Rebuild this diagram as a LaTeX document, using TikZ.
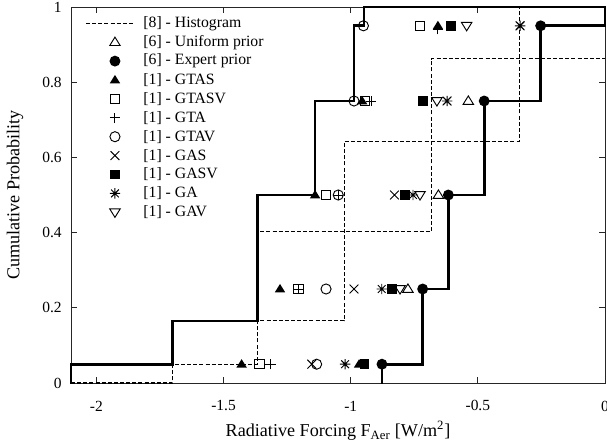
\documentclass[tikz,border=0pt]{standalone}
\usepackage{fontspec}
\setmainfont{Liberation Serif}
\begin{document}
\begin{tikzpicture}[x=190.725pt,y=282pt]
\tikzset{
 stepline/.style={line width=2pt, line join=miter, line cap=rect},
 hist/.style={line width=0.8pt, dash pattern=on 3pt off 1.6pt},
 mk/.style={line width=0.7pt},
 frame/.style={line width=0.7pt, black!85},
 ticklab/.style={font=\fontsize{11.6}{13}\selectfont, inner sep=0pt},
 leglab/.style={font=\fontsize{11.8}{13}\selectfont, inner sep=0pt, anchor=west},
 axlab/.style={font=\fontsize{13.6}{15}\selectfont, inner sep=0pt},
 pics/tu/.style={code={\draw[mk] (0pt,3.8pt)--(-3.9pt,-2.5pt)--(3.9pt,-2.5pt)--cycle;}},
 pics/td/.style={code={\draw[mk] (0pt,-3.8pt)--(-3.9pt,2.5pt)--(3.9pt,2.5pt)--cycle;}},
 pics/tf/.style={code={\fill (0pt,3.8pt)--(-3.9pt,-2.5pt)--(3.9pt,-2.5pt)--cycle;}},
 pics/cf/.style={code={\fill (0pt,0pt) circle[radius=4.1pt];}},
 pics/co/.style={code={\draw[mk] (0pt,0pt) circle[radius=3.8pt];}},
 pics/sq/.style={code={\draw[mk] (-3.5pt,-3.5pt) rectangle (3.5pt,3.5pt);}},
 pics/sf/.style={code={\fill (-3.7pt,-3.7pt) rectangle (3.7pt,3.7pt);}},
 pics/pl/.style={code={\draw[mk] (-3.9pt,0pt)--(3.9pt,0pt) (0pt,-3.9pt)--(0pt,3.9pt);}},
 pics/cr/.style={code={\draw[mk] (-3.3pt,-3.3pt)--(3.3pt,3.3pt) (-3.3pt,3.3pt)--(3.3pt,-3.3pt);}},
 pics/as/.style={code={\draw[mk] (-3.9pt,0pt)--(3.9pt,0pt) (0pt,-3.9pt)--(0pt,3.9pt) (-2.9pt,-2.9pt)--(2.9pt,2.9pt) (-2.9pt,2.9pt)--(2.9pt,-2.9pt);}},
}
\useasboundingbox (-2.3791,-0.15426) rectangle (0.00786,1.01862);
\fill[white] (-2.3791,-0.15426) rectangle (0.00786,1.01862);

% frame and ticks
\draw[frame] (-2.1,0) rectangle (0,1);
\foreach \t in {-2,-1.5,-1,-0.5} {
  \draw[frame] (\t,0) -- ++(0pt,4.5pt);
  \draw[frame] (\t,1) -- ++(0pt,-4.5pt);
}
\foreach \t in {0.2,0.4,0.6,0.8} {
  \draw[frame] (-2.1,\t) -- ++(4.5pt,0pt);
  \draw[frame] (0,\t) -- ++(-4.5pt,0pt);
}
\foreach \t in {-2,-1.5,-1,-0.5,0} \node[ticklab] at (\t,-0.061) {\t};
\foreach \t/\l in {0/0,0.2/0.2,0.4/0.4,0.6/0.6,0.8/0.8,1/1} \node[ticklab,anchor=east] at (-2.1354,\t) {\l};
\node[axlab,rotate=90] at (-2.320,0.5) {Cumulative Probability};
\node[axlab] at (-1.05,-0.127) {Radiative Forcing F\textsubscript{Aer} [W/m\textsuperscript{2}]};

% histogram (dashed)
\draw[hist] (-2.1,0) -- (-1.7,0) -- (-1.7,0.05) -- (-1.367,0.05) -- (-1.367,0.165) -- (-1.026,0.165) -- (-1.026,0.642) -- (-0.338,0.642) -- (-0.338,1);
\draw[hist] (-1.367,0.165) -- (-1.367,0.402) -- (-0.684,0.402) -- (-0.684,0.863) -- (0,0.863);

% uniform prior
\foreach \x/\y in {-0.5375/0.75,-0.655/0.5,-0.775/0.25} \pic at (\x,\y) {tu};

% expert prior step line and points
\draw[stepline] (-0.877,0) -- (-0.877,0.05) -- (-0.717,0.05) -- (-0.717,0.25) -- (-0.616,0.25) -- (-0.616,0.5) -- (-0.475,0.5) -- (-0.475,0.75) -- (-0.253,0.75) -- (-0.253,0.95) -- (0,0.95) -- (0,1);
\foreach \x/\y in {-0.877/0.05,-0.717/0.25,-0.616/0.5,-0.475/0.75,-0.253/0.95} \pic at (\x,\y) {cf};

% left step line
\draw[stepline] (-2.1,0) -- (-2.1,0.05) -- (-1.7,0.05) -- (-1.7,0.165) -- (-1.367,0.165) -- (-1.367,0.5) -- (-1.14,0.5) -- (-1.14,0.75) -- (-0.987,0.75) -- (-0.987,0.95) -- (-0.948,0.95) -- (-0.948,1) -- (0,1);

% GTAS
\foreach \x/\y in {-1.429/0.05,-0.967/0.05,-1.278/0.25,-1.140/0.5,-0.955/0.75,-0.657/0.95} \pic at (\x,\y) {tf};
% GTASV
\foreach \x/\y in {-1.359/0.05,-1.206/0.25,-1.097/0.5,-0.944/0.75,-0.7275/0.95} \pic at (\x,\y) {sq};
% GTA
\foreach \x/\y in {-1.315/0.05,-1.206/0.25,-1.049/0.5,-0.920/0.75,-0.657/0.941} \pic at (\x,\y) {pl};
% GTAV
\foreach \x/\y in {-1.134/0.05,-1.097/0.25,-1.049/0.5,-0.987/0.75,-0.950/0.95} \pic at (\x,\y) {co};
% GAS
\foreach \x/\y in {-1.153/0.05,-0.987/0.25,-0.828/0.5,-0.621/0.75,-0.334/0.95} \pic at (\x,\y) {cr};
% GASV
\foreach \x/\y in {-0.946/0.05,-0.839/0.25,-0.786/0.5,-0.717/0.75,-0.606/0.95} \pic at (\x,\y) {sf};
% GA
\foreach \x/\y in {-1.022/0.05,-0.878/0.25,-0.755/0.5,-0.621/0.75,-0.334/0.95} \pic at (\x,\y) {as};
% GAV
\foreach \x/\y in {-0.806/0.25,-0.7275/0.5,-0.661/0.75,-0.544/0.95} \pic at (\x,\y) {td};

% legend
\draw[hist] (-2.041,0.9566) -- (-1.856,0.9566);
\pic at (-1.927,0.9064) {tu};
\pic at (-1.927,0.8561) {cf};
\pic at (-1.927,0.8059) {tf};
\pic at (-1.927,0.7556) {sq};
\pic at (-1.927,0.7053) {pl};
\pic at (-1.927,0.6550) {co};
\pic at (-1.927,0.6048) {cr};
\pic at (-1.927,0.5545) {sf};
\pic at (-1.927,0.5043) {as};
\pic at (-1.927,0.4540) {td};
\node[leglab] (l1) at (-1.816,0.9566) {[8] - Histogram};
\node[leglab] (l2) at (-1.816,0.9064) {[6] - Uniform prior};
\node[leglab] (l3) at (-1.816,0.8561) {[6] - Expert prior};
\node[leglab] (l4) at (-1.816,0.8059) {[1] - GTAS};
\node[leglab] (l5) at (-1.816,0.7556) {[1] - GTASV};
\node[leglab] (l6) at (-1.816,0.7053) {[1] - GTA};
\node[leglab] (l7) at (-1.816,0.6550) {[1] - GTAV};
\node[leglab] (l8) at (-1.816,0.6048) {[1] - GAS};
\node[leglab] (l9) at (-1.816,0.5545) {[1] - GASV};
\node[leglab] (l10) at (-1.816,0.5043) {[1] - GA};
\node[leglab] (l11) at (-1.816,0.4540) {[1] - GAV};
\end{tikzpicture}
\end{document}
